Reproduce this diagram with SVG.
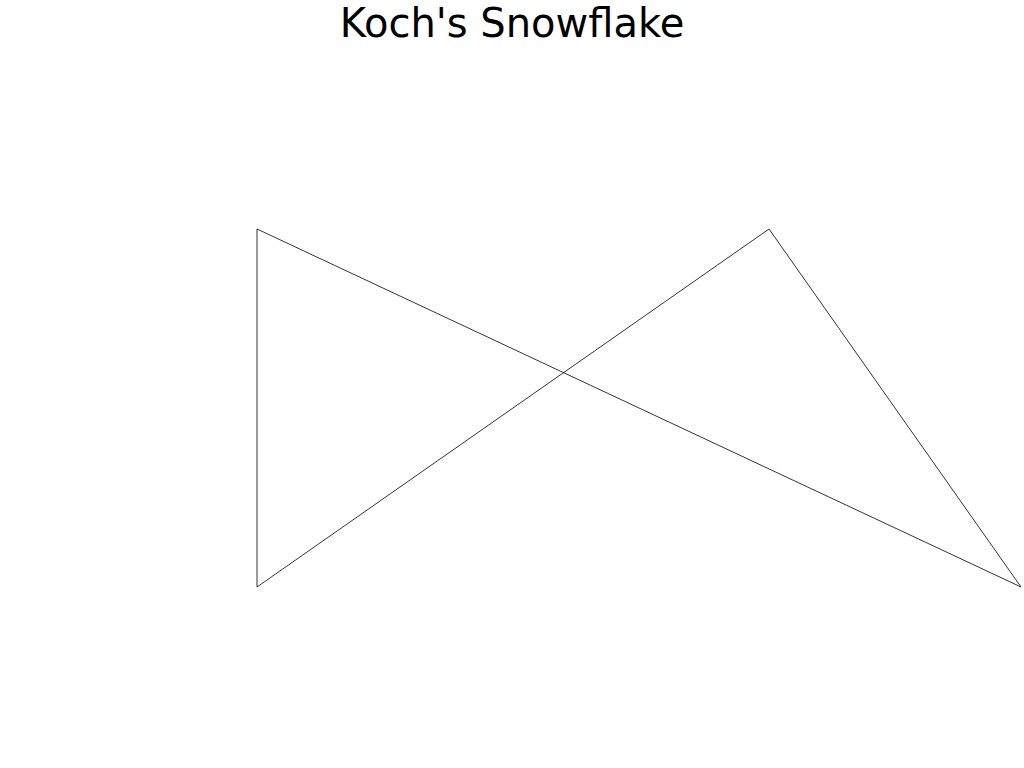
<svg xmlns="http://www.w3.org/2000/svg" width="1024" height="768" viewBox="0 0 1024 768">
<style>
.title{font-family:"DejaVu Sans",sans-serif;font-size:40px;fill:#000}
.edge{fill:none;stroke:#000;stroke-width:0.8}
</style>
<rect width="1024" height="768" fill="#fff"/>
<text class="title" x="512" y="37" text-anchor="middle">Koch's Snowflake</text>
<g id="connectors">
<polyline class="edge" points="257,229 1021,587 769,229 257,587 257,229"/>
</g>
</svg>
